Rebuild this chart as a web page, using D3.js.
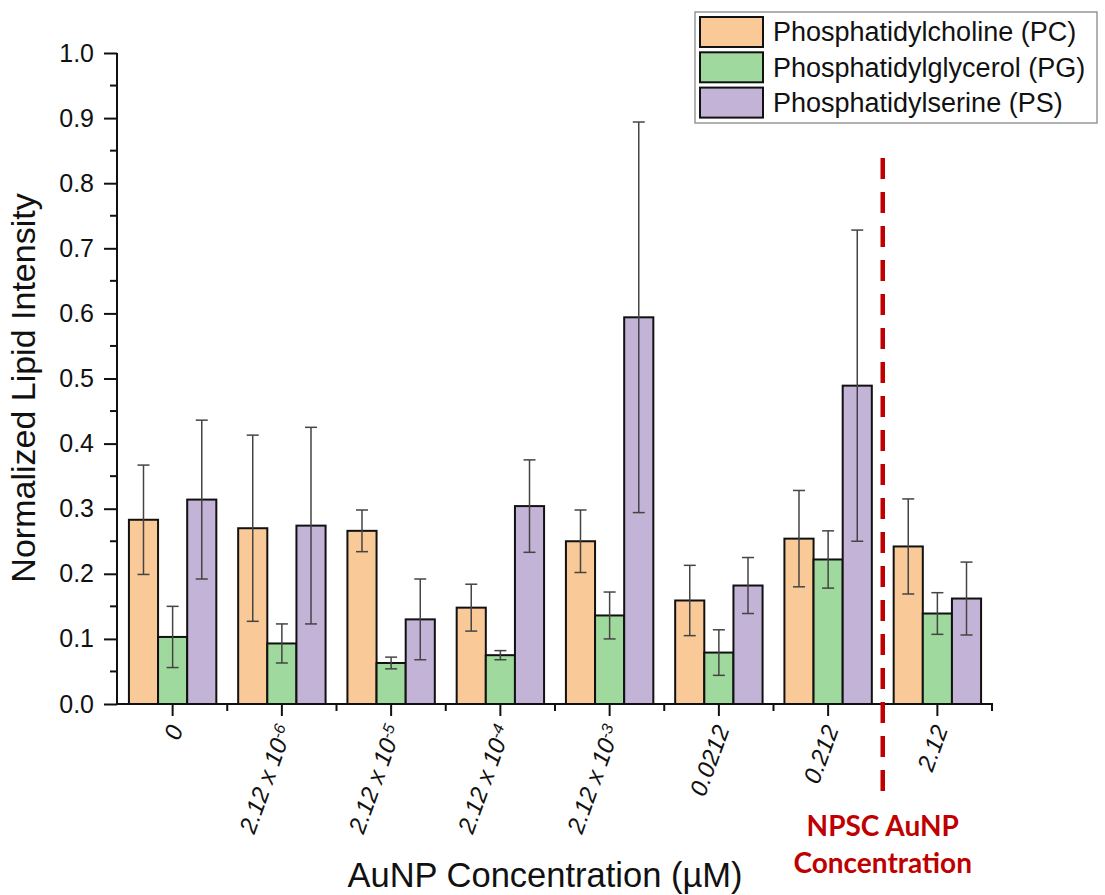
<!DOCTYPE html>
<html lang="en">
<head>
    <meta charset="UTF-8">
    <title>Lipid intensity</title>
    <style>
        body { margin: 0; background: #fff; }
        svg { display: block; }
        text { font-family: "Liberation Sans", Arial, sans-serif; }
    </style>
</head>
<body>
    <script src="https://cdnjs.cloudflare.com/ajax/libs/d3/7.8.2/d3.min.js"></script>
    <script>

        // concentrations (uM) : base text + superscript exponent
        const categories = ["0", "2.12e-6", "2.12e-5", "2.12e-4", "2.12e-3", "0.0212", "0.212", "2.12"]
        const tickBase = ["0", "2.12 x 10", "2.12 x 10", "2.12 x 10", "2.12 x 10", "0.0212", "0.212", "2.12"]
        const tickSup = ["", "-6", "-5", "-4", "-3", "", "", ""]

        const seriesNames = ["Phosphatidylcholine (PC)", "Phosphatidylglycerol (PG)", "Phosphatidylserine (PS)"]

        // mean values
        const pcMean = [0.283, 0.270, 0.266, 0.148, 0.250, 0.159, 0.254, 0.242]
        const pgMean = [0.103, 0.093, 0.063, 0.075, 0.136, 0.079, 0.222, 0.139]
        const psMean = [0.314, 0.274, 0.130, 0.304, 0.594, 0.182, 0.489, 0.162]

        // error bar half length
        const pcErr = [0.084, 0.143, 0.032, 0.036, 0.048, 0.054, 0.074, 0.073]
        const pgErr = [0.047, 0.030, 0.009, 0.007, 0.036, 0.035, 0.044, 0.032]
        const psErr = [0.122, 0.151, 0.062, 0.071, 0.300, 0.043, 0.239, 0.056]

        const yTicks = [0, 0.1, 0.2, 0.3, 0.4, 0.5, 0.6, 0.7, 0.8, 0.9, 1.0]

        const colors = ["#fac998", "#a0d99e", "#c3b3d7"]

        const w = 1105
        const h = 895

        let svg = d3.select("body")
            .append("svg")
                .attr("width", w)
                .attr("height", h)

        const x0 = d3.scaleBand()
            .domain(categories)
            .range([118, 992])
            .paddingInner(0.2)
            .paddingOuter(0.1)

        const x1 = d3.scaleBand()
            .domain(seriesNames)
            .range([0, x0.bandwidth()])

        const y = d3.scaleLinear()
            .domain([0, 1])
            .range([704, 53])

        const means = [pcMean, pgMean, psMean]
        const errs = [pcErr, pgErr, psErr]

        // flat table for bars
        const table = []
        categories.forEach((c, i) => {
            seriesNames.forEach((s, j) => {
                table.push({cat: c, s: s, j: j, v: means[j][i], e: errs[j][i]})
            })
        })

        const bars = svg.append("g")
        bars.selectAll("rect")
            .data(table)
            .enter()
            .append("rect")
                .attr("x", d => x0(d.cat) + x1(d.s))
                .attr("y", d => y(d.v))
                .attr("width", x1.bandwidth())
                .attr("height", d => y(0) - y(d.v))
                .style("fill", d => colors[d.j])
                .style("stroke", "#111")
                .style("stroke-width", 2)

        // error bars
        const eb = svg.append("g")
            .style("stroke", "#444")
            .style("stroke-width", 1.5)
        const cx = d => x0(d.cat) + x1(d.s) + x1.bandwidth() / 2
        eb.selectAll(".v")
            .data(table)
            .enter()
            .append("line")
                .attr("x1", cx).attr("x2", cx)
                .attr("y1", d => y(d.v + d.e))
                .attr("y2", d => y(d.v - d.e))
        eb.selectAll(".t")
            .data(table)
            .enter()
            .append("line")
                .attr("x1", d => cx(d) - 6).attr("x2", d => cx(d) + 6)
                .attr("y1", d => y(d.v + d.e)).attr("y2", d => y(d.v + d.e))
        eb.selectAll(".b")
            .data(table)
            .enter()
            .append("line")
                .attr("x1", d => cx(d) - 6).attr("x2", d => cx(d) + 6)
                .attr("y1", d => y(d.v - d.e)).attr("y2", d => y(d.v - d.e))

        // y axis
        const yAxis = d3.axisLeft(y)
            .tickValues(yTicks)
            .tickFormat(d3.format(".1f"))
            .tickSize(13)
            .tickPadding(10)
        const gy = svg.append("g")
            .attr("transform", "translate(117,0)")
            .call(yAxis)
        gy.select(".domain").attr("d", "M0,704V53").style("stroke", "#111").style("stroke-width", 2)
        gy.selectAll(".tick line").style("stroke", "#111").style("stroke-width", 2)
        gy.selectAll(".tick text").style("font-size", "25px").style("fill", "#111")

        // y minor ticks
        const yMinor = d3.range(0.05, 1, 0.1)
        gy.selectAll(".minor")
            .data(yMinor)
            .enter()
            .append("line")
                .attr("x1", -7).attr("x2", 0)
                .attr("y1", d => y(d)).attr("y2", d => y(d))
                .style("stroke", "#111").style("stroke-width", 2)

        // x axis
        const gx = svg.append("g")
            .attr("transform", "translate(0,704)")
        gx.append("line")
            .attr("x1", 116).attr("x2", 993)
            .style("stroke", "#111").style("stroke-width", 2)
        gx.selectAll(".major")
            .data(categories)
            .enter()
            .append("line")
                .attr("x1", d => x0(d) + x0.bandwidth() / 2)
                .attr("x2", d => x0(d) + x0.bandwidth() / 2)
                .attr("y1", 0).attr("y2", 12)
                .style("stroke", "#111").style("stroke-width", 2)
        gx.selectAll(".minor")
            .data(categories)
            .enter()
            .append("line")
                .attr("x1", d => x0(d) + x0.bandwidth() / 2 + x0.step() / 2)
                .attr("x2", d => x0(d) + x0.bandwidth() / 2 + x0.step() / 2)
                .attr("y1", 0).attr("y2", 7)
                .style("stroke", "#111").style("stroke-width", 2)

        const lab = gx.selectAll(".lab")
            .data(categories)
            .enter()
            .append("text")
                .attr("transform", d => `translate(${x0(d) + x0.bandwidth() / 2 + 3},22) rotate(-70)`)
                .attr("text-anchor", "end")
                .attr("dy", "0.35em")
                .style("font-size", "24px")
                .style("font-style", "italic")
                .style("fill", "#111")
        lab.append("tspan").text((d, i) => tickBase[i])
        lab.append("tspan")
            .attr("dy", "-0.45em")
            .style("font-size", "16px")
            .text((d, i) => tickSup[i])

        // axis titles
        svg.append("text")
            .attr("x", 545).attr("y", 887)
            .attr("text-anchor", "middle")
            .style("font-size", "34.5px")
            .style("fill", "#111")
            .text("AuNP Concentration (µM)")

        svg.append("text")
            .attr("transform", "translate(35,388) rotate(-90)")
            .attr("text-anchor", "middle")
            .style("font-size", "34px")
            .style("fill", "#111")
            .text("Normalized Lipid Intensity")

        // NPSC marker
        const xMark = x0("0.212") + x0.bandwidth() / 2 + x0.step() / 2
        svg.append("line")
            .attr("x1", xMark).attr("x2", xMark)
            .attr("y1", 158).attr("y2", 800)
            .style("stroke", "#c00000")
            .style("stroke-width", 4.5)
            .style("stroke-dasharray", "21,13")

        const note = svg.append("text")
            .attr("text-anchor", "middle")
            .style("font-family", "Lato, 'Open Sans', sans-serif")
            .style("font-weight", "bold")
            .style("font-size", "28px")
            .style("fill", "#c00000")
        note.append("tspan").attr("x", xMark).attr("y", 836).text("NPSC AuNP")
        note.append("tspan").attr("x", xMark).attr("y", 873).text("Concentration")

        // legend
        const leg = svg.append("g")
        leg.append("rect")
            .attr("x", 695).attr("y", 12)
            .attr("width", 402).attr("height", 111)
            .style("fill", "#fff")
            .style("stroke", "#888")
            .style("stroke-width", 1.3)
        const li = leg.selectAll(".item")
            .data(seriesNames)
            .enter()
            .append("g")
                .attr("transform", (d, i) => `translate(700,${17 + i * 35.3})`)
        li.append("rect")
            .attr("width", 63).attr("height", 30)
            .style("fill", (d, i) => colors[i])
            .style("stroke", "#111")
            .style("stroke-width", 2)
        li.append("text")
            .attr("x", 73).attr("y", 15)
            .attr("dy", "0.35em")
            .style("font-size", "27px")
            .style("fill", "#111")
            .text(d => d)

    </script>
</body>
</html>
